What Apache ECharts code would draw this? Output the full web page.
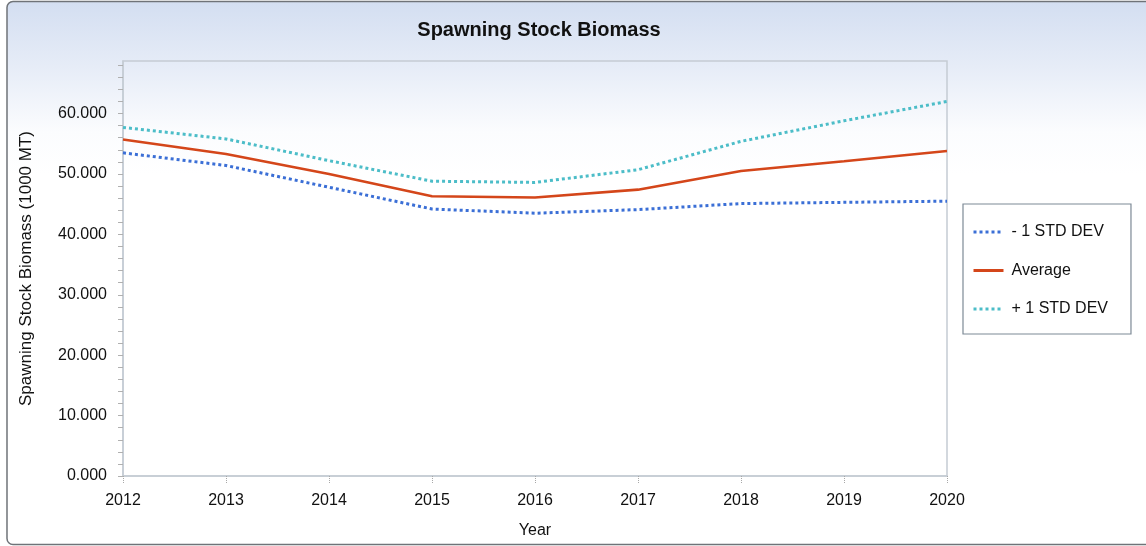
<!DOCTYPE html>
<html>
<head>
<meta charset="utf-8">
<script src="https://cdn.jsdelivr.net/npm/echarts@6/dist/echarts.min.js"></script>
<style>
  html, body { margin: 0; padding: 0; background: #fff; }
  #chart { width: 1146px; height: 546px; }
</style>
</head>
<body>
<div id="chart"></div>
<script>
// values
const years = ['2012', '2013', '2014', '2015', '2016', '2017', '2018', '2019', '2020'];
const minusStd = [53.5, 51.4, 47.8, 44.2, 43.5, 44.1, 45.1, 45.3, 45.5];
const average = [55.7, 53.3, 50.0, 46.3, 46.1, 47.4, 50.5, 52.1, 53.8];
const plusStd = [57.7, 55.8, 52.2, 48.8, 48.6, 50.7, 55.4, 58.8, 62.0];

const font = 'Liberation Sans, Arial, sans-serif';

const myChart = echarts.init(document.getElementById('chart'));

const option = {
  animation: false,
  backgroundColor: '#ffffff',
  graphic: [{
    type: 'rect',
    z: -10,
    shape: { x: 7, y: 1.5, width: 1150, height: 543, r: 6 },
    style: {
      fill: new echarts.graphic.LinearGradient(0, 0, 0, 1, [
        { offset: 0, color: '#d3def1' },
        { offset: 0.12, color: '#e6ecf7' },
        { offset: 0.24, color: '#fbfcfe' },
        { offset: 0.32, color: '#ffffff' },
        { offset: 1, color: '#ffffff' }
      ]),
      stroke: '#6f7378',
      lineWidth: 1.5
    }
  }],
  title: {
    text: 'Spawning Stock Biomass',
    left: 534,
    top: 15,
    textAlign: 'center',
    textStyle: {
      fontFamily: font,
      fontSize: 20,
      fontWeight: 'bold',
      color: '#111'
    }
  },
  legend: {
    orient: 'vertical',
    left: 963,
    top: 204,
    padding: [20, 23, 17, 9],
    itemWidth: 30,
    itemHeight: 14,
    itemGap: 22.5,
    borderColor: '#7d8a96',
    borderWidth: 1.2,
    backgroundColor: '#ffffff',
    itemStyle: { opacity: 0 },
    lineStyle: { width: 3 },
    textStyle: {
      fontFamily: font,
      fontSize: 16,
      color: '#111',
      padding: [0, 0, 0, 3]
    },
    data: ['- 1 STD DEV', 'Average', '+ 1 STD DEV']
  },
  grid: {
    left: 123,
    top: 61,
    right: 199,
    bottom: 70,
    show: true,
    borderColor: '#c5ccd4',
    borderWidth: 1.5,
    backgroundColor: 'transparent'
  },
  xAxis: {
    type: 'category',
    boundaryGap: false,
    data: years,
    name: 'Year',
    nameLocation: 'middle',
    nameGap: 47,
    nameTextStyle: { fontFamily: font, fontSize: 16, color: '#111' },
    axisLine: { lineStyle: { color: '#c5ccd4', width: 1.5 } },
    axisTick: {
      show: true,
      length: 7,
      alignWithLabel: true,
      lineStyle: { color: '#a8a8a8', type: [1, 1] }
    },
    axisLabel: {
      margin: 17,
      fontFamily: font,
      fontSize: 16,
      color: '#111'
    },
    splitLine: { show: false }
  },
  yAxis: {
    type: 'value',
    min: 0,
    max: 68.7,
    interval: 2,
    name: 'Spawning Stock Biomass (1000 MT)',
    nameLocation: 'middle',
    nameRotate: 90,
    nameGap: 88,
    nameTextStyle: { fontFamily: font, fontSize: 17, color: '#111' },
    axisLine: { show: true, lineStyle: { color: '#c5ccd4', width: 1.5 } },
    axisTick: {
      show: true,
      length: 5,
      lineStyle: { color: '#b0b0b0' }
    },
    axisLabel: {
      margin: 16,
      fontFamily: font,
      fontSize: 16,
      color: '#111',
      showMaxLabel: false,
      formatter: function (v) {
        return Math.abs(v % 10) < 1e-6 ? v.toFixed(3) : '';
      }
    },
    splitLine: { show: false }
  },
  series: [
    {
      name: '- 1 STD DEV',
      type: 'line',
      data: minusStd,
      symbol: 'none',
      lineStyle: { color: '#3b6fd6', width: 3, type: [3, 3] },
      itemStyle: { color: '#3b6fd6' }
    },
    {
      name: 'Average',
      type: 'line',
      data: average,
      symbol: 'none',
      lineStyle: { color: '#d4461a', width: 2.6 },
      itemStyle: { color: '#d4461a' }
    },
    {
      name: '+ 1 STD DEV',
      type: 'line',
      data: plusStd,
      symbol: 'none',
      lineStyle: { color: '#4cbdc8', width: 3, type: [3, 3] },
      itemStyle: { color: '#4cbdc8' }
    }
  ]
};

myChart.setOption(option);
</script>
</body>
</html>
